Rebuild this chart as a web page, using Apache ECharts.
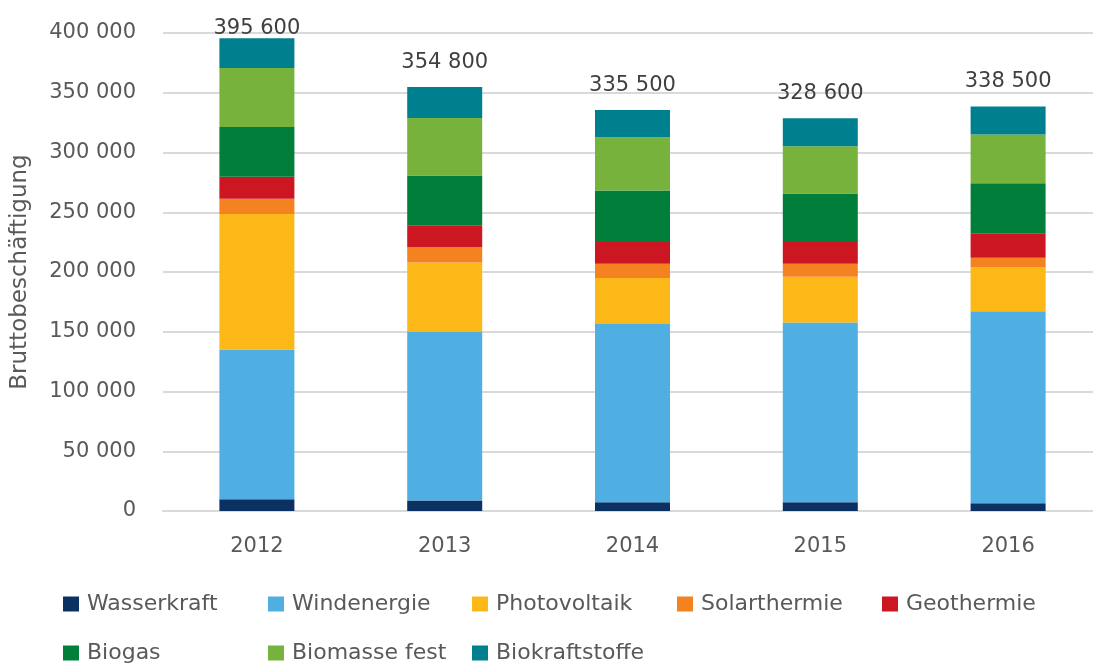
<!DOCTYPE html>
<html>
<head>
<meta charset="utf-8">
<script src="https://cdn.jsdelivr.net/npm/echarts@6/dist/echarts.min.js"></script>
<style>
html,body{margin:0;padding:0;background:#fff;}
#chart{width:1093px;height:664px;}
</style>
</head>
<body>
<div id="chart"></div>
<script>
var categories = ['2012', '2013', '2014', '2015', '2016'];
var seriesNames = ['Wasserkraft', 'Windenergie', 'Photovoltaik', 'Solarthermie', 'Geothermie', 'Biogas', 'Biomasse fest', 'Biokraftstoffe'];
var wasserkraft   = [9800, 8700, 7300, 7300, 6400];
var windenergie   = [125300, 141100, 149200, 150400, 160700];
var photovoltaik  = [113400, 58100, 38500, 38400, 36600];
var solarthermie  = [12900, 12800, 12000, 10900, 8300];
var geothermie    = [18400, 18400, 18100, 18100, 20400];
var biogas        = [41500, 41600, 43000, 40500, 41800];
var biomasseFest  = [49400, 48200, 44600, 39600, 40800];
var biokraftstoffe= [24900, 25900, 22800, 23400, 23500];
var totals        = [395600, 354800, 335500, 328600, 338500];
var yTicks = { min: 0, max: 400000, interval: 50000 };

var colors = ['#0B3162', '#4FAEE2', '#FBB817', '#F58220', '#CC1722', '#007E3A', '#77B23C', '#00808E'];
var values = [wasserkraft, windenergie, photovoltaik, solarthermie, geothermie, biogas, biomasseFest, biokraftstoffe];

function fmt(v) { return String(v).replace(/\B(?=(\d{3})+(?!\d))/g, ' '); }

var FONT = 'DejaVu Sans';
var series = values.map(function (arr, si) {
  var isTop = si === values.length - 1;
  return {
    name: seriesNames[si],
    type: 'bar',
    stack: 'total',
    barWidth: 75,
    itemStyle: { color: colors[si] },
    data: arr.map(function (v, i) {
      var d = { value: v };
      if (isTop) {
        d.label = {
          show: true,
          position: 'top',
          distance: 14,
          offset: i === 0 ? [0, 15] : [0, 0],
          formatter: fmt(totals[i]),
          color: '#404040',
          fontFamily: FONT,
          fontSize: 21
        };
      }
      return d;
    })
  };
});

// legend item placement (column x, row y) in the reference layout
var legendPos = [
  [63, 593], [268, 593], [472, 593], [677, 593], [882, 593],
  [63, 642], [268, 642], [472, 642]
];
var legends = seriesNames.map(function (n, i) {
  return {
    left: legendPos[i][0],
    top: legendPos[i][1],
    outerBoundsMode: 'none',
    data: [n],
    icon: 'rect',
    itemWidth: 16,
    itemHeight: 15,
    selectedMode: false,
    padding: 0,
    textStyle: { color: '#595959', fontFamily: FONT, fontSize: 22, lineHeight: 22, padding: [0, 0, 0, 3] }
  };
});

var chart = echarts.init(document.getElementById('chart'), null, { renderer: 'canvas' });
chart.setOption({
  animation: false,
  backgroundColor: '#fff',
  color: colors,
  legend: legends,
  grid: { left: 163, top: 33, width: 939, height: 478, containLabel: false, outerBoundsMode: 'none' },
  xAxis: {
    type: 'category',
    data: categories,
    axisLine: { lineStyle: { color: '#d9d9d9', width: 2 } },
    axisTick: { show: false },
    axisLabel: { color: '#595959', fontFamily: FONT, fontSize: 21, margin: 25 }
  },
  yAxis: {
    type: 'value',
    min: yTicks.min,
    max: yTicks.max,
    interval: yTicks.interval,
    name: 'Bruttobeschäftigung',
    nameLocation: 'middle',
    nameRotate: 90,
    nameGap: 131,
    nameTextStyle: { color: '#595959', fontFamily: FONT, fontSize: 23 },
    axisLine: { show: false },
    axisTick: { show: false },
    splitLine: { lineStyle: { color: '#d9d9d9', width: 2 } },
    axisLabel: { color: '#595959', fontFamily: FONT, fontSize: 21, margin: 27, formatter: fmt }
  },
  series: series
});
</script>
</body>
</html>
